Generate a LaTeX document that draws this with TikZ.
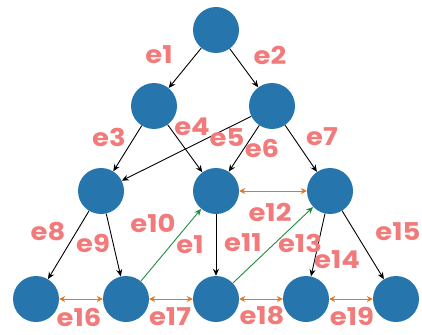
\documentclass[tikz,border=0pt]{standalone}
\usepackage{fontspec}
\setmainfont{Poppins}[FakeStretch=1.12]
\usetikzlibrary{arrows.meta}
\definecolor{nodeblue}{RGB}{38,117,172}
\definecolor{lab}{RGB}{242,122,122}
\definecolor{orng}{RGB}{228,118,28}
\definecolor{grn}{RGB}{30,140,60}
\tikzset{
  vtx/.style={circle,fill=nodeblue,minimum size=46pt,inner sep=0pt},
  lbl/.style={text=lab,font=\fontsize{24.5}{24.5}\selectfont\bfseries,inner sep=0pt},
  blk/.style={draw=black,line width=0.9pt,-{Stealth[length=7pt,width=6pt]}},
  grarr/.style={draw=grn,line width=0.9pt,-{Stealth[length=7pt,width=6pt]}},
  orarr/.style={draw=orng,line width=1pt,{Stealth[length=6pt,width=6pt]}-{Stealth[length=6pt,width=6pt]}}
}
\begin{document}
\begin{tikzpicture}[x=1pt,y=-1pt]
\useasboundingbox (0,0) rectangle (422,334);
\node[vtx] (t) at (216,30) {};
\node[vtx] (a) at (154,106) {};
\node[vtx] (b) at (272,106) {};
\node[vtx] (c) at (101,191) {};
\node[vtx] (d) at (216,191) {};
\node[vtx] (f) at (330,191) {};
\node[vtx] (g1) at (36,299) {};
\node[vtx] (g2) at (126,299) {};
\node[vtx] (g3) at (216,299) {};
\node[vtx] (g4) at (306,299) {};
\node[vtx] (g5) at (396,299) {};
\draw[blk] (t) -- (a);
\draw[blk] (t) -- (b);
\draw[blk] (a) -- (c);
\draw[blk] (a) -- (d);
\draw[blk] (b) -- (c);
\draw[blk] (b) -- (d);
\draw[blk] (b) -- (f);
\draw[blk] (c) -- (g1);
\draw[blk] (c) -- (g2);
\draw[blk] (d) -- (g3);
\draw[blk] (f) -- (g4);
\draw[blk] (f) -- (g5);
\draw[grarr] (g2) -- (d);
\draw[grarr] (g3) -- (f);
\draw[orarr] (d) -- (f);
\draw[orarr] (g1) -- (g2);
\draw[orarr] (g2) -- (g3);
\draw[orarr] (g3) -- (g4);
\draw[orarr] (g4) -- (g5);
\node[lbl] (l1) at (159,55) {e1};
\node[lbl] (l2) at (270,55) {e2};
\node[lbl] (l3) at (109,137) {e3};
\node[lbl] (l4) at (192,127) {e4};
\node[lbl] (l5) at (227,138) {e5};
\node[lbl] (l6) at (262,148) {e6};
\node[lbl] (l7) at (322,137) {e7};
\node[lbl] (l8) at (48,232) {e8};
\node[lbl] (l9) at (93,243) {e9};
\node[lbl] (l10) at (153,223) {e10};
\node[lbl] (l1b) at (190,245) {e1};
\node[lbl] (l11) at (243,243) {e11};
\node[lbl] (l12) at (270,212) {e12};
\node[lbl] (l13) at (300,243) {e13};
\node[lbl] (l14) at (337,260) {e14};
\node[lbl] (l15) at (398,232) {e15};
\node[lbl] (l16) at (79,317) {e16};
\node[lbl] (l17) at (170,317) {e17};
\node[lbl] (l18) at (262,316) {e18};
\node[lbl] (l19) at (352,316) {e19};
\end{tikzpicture}
\end{document}
